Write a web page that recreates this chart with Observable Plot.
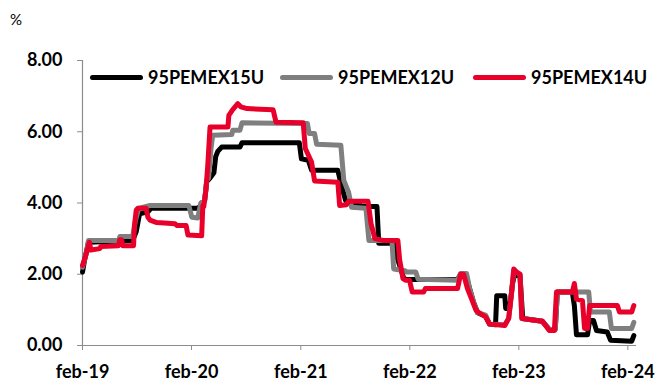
<!DOCTYPE html>
<html>
<head>
<meta charset="utf-8">
<script src="https://cdn.jsdelivr.net/npm/d3@7"></script>
<script src="https://cdn.jsdelivr.net/npm/@observablehq/plot@0.6"></script>
<style>
  html, body { margin: 0; padding: 0; background: #fff; }
  #chart { position: relative; width: 657px; height: 382px; font-family: Lato, "Liberation Sans", sans-serif; }
  #chart svg { position: absolute; left: 0; top: 0; }
  .unit { position: absolute; left: 10px; top: 10px; font-size: 15px; color: #000; }
  .legend { position: absolute; top: 66px; left: 90px; display: flex; align-items: center; font-weight: bold; font-size: 18px; color: #000; white-space: nowrap; }
  .legend .item { display: flex; align-items: center; }
  .legend .swatch { width: 53px; height: 5px; border-radius: 3px; margin-right: 5px; }
</style>
</head>
<body>
<div id="chart"></div>
<script>
// Series names and colours
const seriesNames = ["95PEMEX15U", "95PEMEX12U", "95PEMEX14U"];
const seriesColors = ["#000000", "#7f7f7f", "#e8002b"];

// Axis ticks
const yTicks = [0, 2, 4, 6, 8];
const xTickLabels = ["feb-19", "feb-20", "feb-21", "feb-22", "feb-23", "feb-24"];
const xTickDates = ["2019-02-01", "2020-02-01", "2021-02-01", "2022-02-01", "2023-02-01", "2024-02-01"];

// 95PEMEX15U yield, %
const pemex15U = [
  ["2019-02-01", 2.06], ["2019-02-08", 2.4], ["2019-02-21", 2.9], ["2019-07-19", 2.95],
  ["2019-07-31", 3.2], ["2019-08-11", 3.7], ["2019-09-08", 3.75], ["2019-09-18", 3.85],
  ["2020-02-19", 3.85], ["2020-02-29", 3.9], ["2020-03-06", 4.0], ["2020-03-16", 4.07],
  ["2020-03-23", 4.6], ["2020-04-03", 4.7], ["2020-04-16", 4.85], ["2020-04-22", 5.3],
  ["2020-04-29", 5.45], ["2020-05-12", 5.57], ["2020-07-12", 5.57], ["2020-07-19", 5.69],
  ["2021-01-27", 5.69], ["2021-02-03", 5.24], ["2021-02-26", 5.2], ["2021-03-09", 4.92],
  ["2021-06-05", 4.92], ["2021-06-15", 4.55], ["2021-07-01", 4.07], ["2021-08-17", 3.95],
  ["2021-08-24", 3.9], ["2021-10-14", 3.9], ["2021-10-20", 2.87], ["2021-12-13", 2.87],
  ["2021-12-23", 2.4], ["2022-01-12", 1.88], ["2022-01-22", 1.85], ["2022-07-11", 1.85],
  ["2022-07-21", 2.0], ["2022-08-07", 2.0], ["2022-08-20", 1.6], ["2022-09-03", 1.2],
  ["2022-09-16", 0.92], ["2022-10-13", 0.82], ["2022-10-26", 0.6], ["2022-11-15", 0.58],
  ["2022-11-19", 1.4], ["2022-12-16", 1.4], ["2022-12-19", 1.04], ["2023-01-01", 1.04],
  ["2023-01-11", 1.74], ["2023-01-18", 2.0], ["2023-02-05", 1.95], ["2023-02-14", 0.76],
  ["2023-04-21", 0.68], ["2023-05-14", 0.45], ["2023-06-03", 0.45], ["2023-06-10", 1.5],
  ["2023-07-30", 1.5], ["2023-08-06", 1.12], ["2023-08-13", 0.3], ["2023-09-19", 0.3],
  ["2023-09-26", 0.7], ["2023-10-09", 0.7], ["2023-10-19", 0.42], ["2023-11-24", 0.38],
  ["2023-12-05", 0.15], ["2024-02-14", 0.12], ["2024-02-21", 0.28]
];

// 95PEMEX12U yield, %
const pemex12U = [
  ["2019-02-01", 2.2], ["2019-02-14", 2.6], ["2019-02-21", 2.95], ["2019-06-03", 2.95],
  ["2019-06-06", 3.06], ["2019-07-19", 3.06], ["2019-07-28", 3.5], ["2019-08-08", 3.85],
  ["2019-09-15", 3.93], ["2020-01-23", 3.93], ["2020-02-02", 3.6], ["2020-02-22", 3.58],
  ["2020-03-03", 4.0], ["2020-03-16", 4.07], ["2020-03-23", 4.63], ["2020-03-29", 4.7],
  ["2020-04-06", 5.5], ["2020-04-12", 5.9], ["2020-06-15", 5.92], ["2020-06-18", 6.04],
  ["2020-07-12", 6.04], ["2020-07-19", 6.25], ["2021-02-23", 6.23], ["2021-03-01", 5.95],
  ["2021-03-19", 5.95], ["2021-03-26", 5.65], ["2021-06-15", 5.62], ["2021-06-25", 4.63],
  ["2021-07-11", 4.3], ["2021-07-21", 3.88], ["2021-09-07", 3.85], ["2021-09-17", 2.95],
  ["2021-12-03", 2.95], ["2021-12-09", 2.15], ["2022-01-16", 2.1], ["2022-01-22", 2.06],
  ["2022-02-21", 2.06], ["2022-03-01", 1.86], ["2022-07-11", 1.83], ["2022-07-21", 2.02],
  ["2022-08-10", 2.02], ["2022-08-20", 1.6], ["2022-09-03", 1.2], ["2022-09-16", 0.92],
  ["2022-10-13", 0.85], ["2022-10-26", 0.6], ["2022-12-16", 0.58], ["2022-12-29", 0.76],
  ["2023-01-08", 1.5], ["2023-01-15", 2.1], ["2023-02-05", 2.0], ["2023-02-11", 0.76],
  ["2023-04-21", 0.68], ["2023-05-14", 0.45], ["2023-06-03", 0.45], ["2023-06-10", 1.5],
  ["2023-09-23", 1.5], ["2023-09-29", 0.94], ["2023-12-01", 0.94], ["2023-12-08", 0.48],
  ["2024-02-14", 0.48], ["2024-02-21", 0.65]
];

// 95PEMEX14U yield, %
const pemex14U = [
  ["2019-02-01", 2.25], ["2019-02-11", 2.5], ["2019-02-24", 2.9], ["2019-03-01", 2.68],
  ["2019-03-31", 2.72], ["2019-04-03", 2.78], ["2019-06-01", 2.8], ["2019-06-06", 2.97],
  ["2019-06-12", 2.97], ["2019-06-16", 2.8], ["2019-07-22", 2.8], ["2019-07-25", 3.37],
  ["2019-07-31", 3.8], ["2019-08-05", 3.85], ["2019-09-02", 3.85], ["2019-09-08", 3.6],
  ["2019-09-15", 3.52], ["2019-10-08", 3.45], ["2019-12-08", 3.42], ["2019-12-14", 3.37],
  ["2020-01-14", 3.37], ["2020-01-20", 3.1], ["2020-03-06", 3.08], ["2020-03-10", 3.93],
  ["2020-03-13", 3.9], ["2020-03-20", 4.35], ["2020-03-26", 5.0], ["2020-04-03", 6.13],
  ["2020-06-02", 6.13], ["2020-06-05", 6.46], ["2020-06-18", 6.62], ["2020-07-05", 6.79],
  ["2020-07-15", 6.7], ["2020-08-05", 6.65], ["2020-10-31", 6.62], ["2020-11-10", 6.27],
  ["2021-02-09", 6.25], ["2021-02-16", 5.53], ["2021-03-09", 5.15], ["2021-03-19", 4.62],
  ["2021-06-05", 4.58], ["2021-06-11", 3.93], ["2021-07-04", 3.95], ["2021-07-11", 4.05],
  ["2021-09-14", 4.05], ["2021-09-24", 3.43], ["2021-10-07", 3.0], ["2021-11-03", 2.95],
  ["2021-12-23", 2.95], ["2021-12-29", 2.4], ["2022-01-09", 1.88], ["2022-01-19", 1.83],
  ["2022-01-31", 1.83], ["2022-02-09", 1.5], ["2022-03-19", 1.5], ["2022-03-25", 1.6],
  ["2022-07-11", 1.6], ["2022-07-21", 2.0], ["2022-07-31", 2.0], ["2022-08-13", 1.6],
  ["2022-08-27", 1.3], ["2022-09-10", 1.0], ["2022-09-20", 0.92], ["2022-10-13", 0.8],
  ["2022-10-26", 0.6], ["2022-12-16", 0.56], ["2022-12-29", 0.76], ["2023-01-08", 1.5],
  ["2023-01-15", 2.15], ["2023-01-25", 2.06], ["2023-02-05", 2.0], ["2023-02-11", 0.76],
  ["2023-04-21", 0.68], ["2023-05-14", 0.42], ["2023-05-31", 0.42], ["2023-06-07", 1.5],
  ["2023-07-30", 1.5], ["2023-08-06", 1.74], ["2023-08-13", 1.3], ["2023-09-02", 1.26],
  ["2023-09-09", 0.48], ["2023-09-19", 0.48], ["2023-09-26", 1.12], ["2023-12-28", 1.12],
  ["2024-01-04", 0.94], ["2024-02-14", 0.94], ["2024-02-21", 1.12]
];

const parse = d3.utcParse("%Y-%m-%d");
const toRows = (pairs) => pairs.map(([d, v]) => ({date: parse(d), value: v}));
const series = [pemex15U, pemex12U, pemex14U].map(toRows);
const tickDates = xTickDates.map(parse);

const axisColor = "#8c8c8c";
const labelFont = {fontFamily: "Lato, 'Liberation Sans', sans-serif", fontWeight: "bold", fontSize: 18};

const chart = Plot.plot({
  width: 657,
  height: 382,
  marginLeft: 82,
  marginRight: 21,
  marginTop: 60,
  marginBottom: 37,
  style: {background: "#fff", color: "#000", overflow: "visible"},
  x: {type: "utc", domain: [parse("2019-02-01"), parse("2024-03-01")], label: null},
  y: {domain: [0, 8], label: null},
  marks: [
    Plot.ruleY([0], {stroke: axisColor, strokeWidth: 1.2}),
    Plot.ruleX([parse("2019-02-01")], {stroke: axisColor, strokeWidth: 1.2}),
    Plot.axisY({
      ticks: yTicks,
      tickFormat: d3.format(".2f"),
      tickSize: 5,
      tickPadding: 15,
      stroke: axisColor,
      fill: "#000",
      label: null,
      ...labelFont
    }),
    Plot.axisX({
      ticks: tickDates,
      tickFormat: (d) => xTickLabels[tickDates.findIndex((t) => +t === +d)],
      tickSize: 5,
      tickPadding: 15,
      stroke: axisColor,
      fill: "#000",
      label: null,
      ...labelFont
    }),
    ...series.map((rows, i) =>
      Plot.line(rows, {
        x: "date",
        y: "value",
        stroke: seriesColors[i],
        strokeWidth: 5,
        strokeLinejoin: "round",
        strokeLinecap: "round"
      })
    )
  ]
});

const root = document.getElementById("chart");
root.appendChild(chart);

const unit = document.createElement("div");
unit.className = "unit";
unit.textContent = "%";
root.appendChild(unit);

// Legend row inside the plot area
const legend = document.createElement("div");
legend.className = "legend";
const gaps = [0, 16, 19];
seriesNames.forEach((name, i) => {
  const item = document.createElement("div");
  item.className = "item";
  item.style.marginLeft = gaps[i] + "px";
  const sw = document.createElement("span");
  sw.className = "swatch";
  sw.style.background = seriesColors[i];
  const label = document.createElement("span");
  label.textContent = name;
  item.appendChild(sw);
  item.appendChild(label);
  legend.appendChild(item);
});
root.appendChild(legend);
</script>
</body>
</html>
